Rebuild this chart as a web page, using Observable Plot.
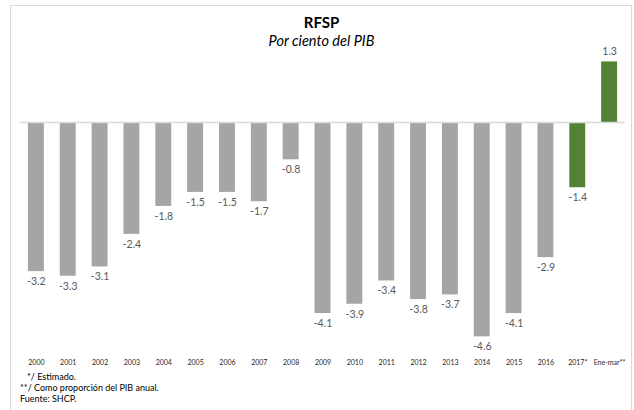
<!DOCTYPE html>
<html>
<head>
<meta charset="utf-8">
<script src="https://cdn.jsdelivr.net/npm/d3@7"></script>
<script src="https://cdn.jsdelivr.net/npm/@observablehq/plot@0.6"></script>
<style>
  html, body { margin: 0; padding: 0; background: #fff; }
  body { font-family: Lato, "Open Sans", sans-serif; }
  #wrap { position: relative; width: 634px; height: 410px; overflow: hidden; }
  #frame { position: absolute; left: 10px; top: 5px; width: 622px; height: 420px;
           border: 1.5px solid #d9d9d9; box-sizing: border-box; }
  #title { position: absolute; left: 11px; width: 621px; top: 13px; text-align: center;
           font-weight: bold; font-size: 15px; line-height: 18px; color: #000; }
  #subtitle { position: absolute; left: 11px; width: 621px; top: 32px; text-align: center;
              font-style: italic; font-size: 14.5px; line-height: 18px; color: #000; }
  #chart { position: absolute; left: 0; top: 40px; }
  #notes { position: absolute; left: 20px; top: 371px; font-size: 9px; line-height: 11px; color: #000; }
</style>
</head>
<body>
<div id="wrap">
  <div id="frame"></div>
  <div id="title">RFSP</div>
  <div id="subtitle">Por ciento del PIB</div>
  <div id="chart"></div>
  <div id="notes">
    <div style="padding-left:7px">*/ Estimado.</div>
    <div>**/ Como proporción del PIB anual.</div>
    <div>Fuente: SHCP.</div>
  </div>
</div>
<script>
const categories = ["2000","2001","2002","2003","2004","2005","2006","2007","2008","2009","2010","2011","2012","2013","2014","2015","2016","2017*","Ene-mar**"];
const values = [-3.2,-3.3,-3.1,-2.4,-1.8,-1.5,-1.5,-1.7,-0.8,-4.1,-3.9,-3.4,-3.8,-3.7,-4.6,-4.1,-2.9,-1.4,1.3];
const highlighted = ["2017*","Ene-mar**"];

const data = categories.map((c, i) => ({cat: c, value: values[i], hi: highlighted.includes(c)}));

const chart = Plot.plot({
  width: 634,
  height: 330,
  marginLeft: 12,
  marginRight: 1,
  marginTop: 0,
  marginBottom: 15,
  style: {fontFamily: "Lato, 'Open Sans', sans-serif", background: "transparent", overflow: "visible"},
  x: {domain: categories, padding: 0.5, round: false, label: null},
  y: {domain: [-5, 1.76], axis: null},
  marks: [
    Plot.barY(data, {x: "cat", y: "value", fill: d => d.hi ? "#548235" : "#a5a5a5"}),
    Plot.ruleY([0], {stroke: "#d9d9d9", strokeWidth: 1.5, insetLeft: 8, insetRight: 8}),
    Plot.text(data.filter(d => d.value < 0), {x: "cat", y: "value", text: d => d.value.toFixed(1), dy: 10, fontSize: 10.5, fill: "#595959"}),
    Plot.text(data.filter(d => d.value >= 0), {x: "cat", y: "value", text: d => d.value.toFixed(1), dy: -10, fontSize: 10.5, fill: "#595959"}),
    Plot.axisX({tickSize: 0, tickPadding: 5, fontSize: 7, color: "#262626", label: null})
  ]
});
document.getElementById("chart").appendChild(chart);
</script>
</body>
</html>
